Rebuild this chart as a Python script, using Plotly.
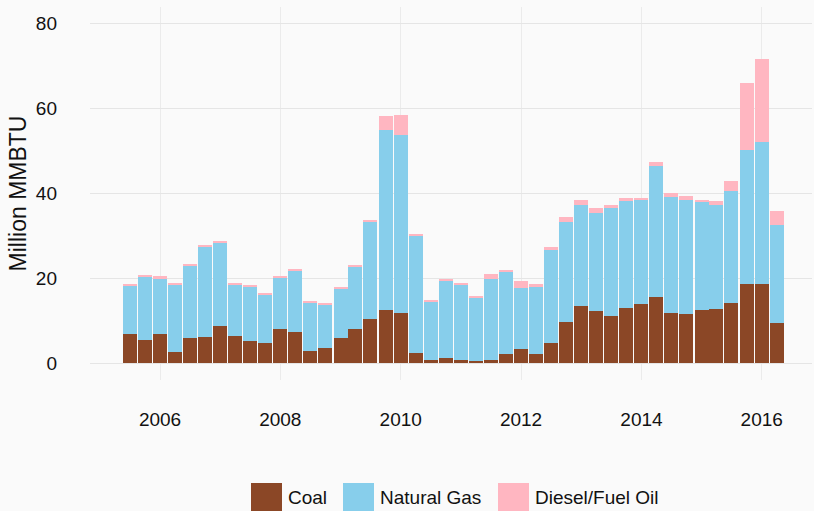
import plotly.graph_objects as go

quarters = [
    "2005-07-01", "2005-10-01",
    "2006-01-01", "2006-04-01", "2006-07-01", "2006-10-01",
    "2007-01-01", "2007-04-01", "2007-07-01", "2007-10-01",
    "2008-01-01", "2008-04-01", "2008-07-01", "2008-10-01",
    "2009-01-01", "2009-04-01", "2009-07-01", "2009-10-01",
    "2010-01-01", "2010-04-01", "2010-07-01", "2010-10-01",
    "2011-01-01", "2011-04-01", "2011-07-01", "2011-10-01",
    "2012-01-01", "2012-04-01", "2012-07-01", "2012-10-01",
    "2013-01-01", "2013-04-01", "2013-07-01", "2013-10-01",
    "2014-01-01", "2014-04-01", "2014-07-01", "2014-10-01",
    "2015-01-01", "2015-04-01", "2015-07-01", "2015-10-01",
    "2016-01-01", "2016-04-01",
]

coal = [6.8, 5.4, 6.8, 2.6, 5.9, 6.1, 8.7, 6.3, 5.2, 4.7, 8.0, 7.3, 2.8, 3.5,
        5.9, 8.0, 10.3, 12.4, 11.7, 2.3, 0.7, 1.2, 0.7, 0.5, 0.7, 2.1, 3.3, 2.1,
        4.7, 9.6, 13.4, 12.2, 11.0, 12.9, 13.8, 15.5, 11.7, 11.5, 12.4, 12.7,
        14.1, 18.6, 18.6, 9.4]

natural_gas = [11.5, 15.0, 13.1, 15.9, 17.1, 21.3, 19.7, 12.2, 12.9, 11.5, 12.2,
               14.5, 11.5, 10.3, 11.7, 14.8, 23.0, 42.5, 42.0, 27.5, 13.8, 18.3,
               17.6, 15.0, 19.2, 19.5, 14.3, 16.0, 21.8, 23.5, 23.7, 23.2, 25.4,
               25.3, 24.7, 31.0, 27.5, 27.0, 25.6, 24.4, 26.5, 31.6, 33.5, 23.0]

diesel_fuel_oil = [0.3, 0.3, 0.7, 0.3, 0.2, 0.3, 0.2, 0.3, 0.3, 0.3, 0.2, 0.2,
                   0.2, 0.2, 0.2, 0.2, 0.2, 3.3, 4.7, 0.7, 0.3, 0.4, 0.5, 0.2,
                   1.0, 0.4, 1.6, 0.4, 0.9, 1.2, 1.4, 1.2, 0.7, 0.7, 0.4, 0.9,
                   0.9, 0.9, 0.2, 1.1, 2.3, 15.7, 19.5, 3.3]

series_names = ["Coal", "Natural Gas", "Diesel/Fuel Oil"]
series_colors = ["#8B4726", "#87CEEB", "#FFB6C1"]

y_ticks = [0, 20, 40, 60, 80]

W, H = 814, 511
ML, MR, MT, MB = 90, 2, 7, 131
PW, PH = W - ML - MR, H - MT - MB

DAY_MS = 86400000
bar_width = [85 * DAY_MS] * len(quarters)

FONT = "Liberation Sans, Arial, Helvetica, sans-serif"

fig = go.Figure()
for name, vals, col in zip(series_names, [coal, natural_gas, diesel_fuel_oil], series_colors):
    fig.add_trace(go.Bar(
        x=quarters, y=vals, name=name, width=bar_width,
        marker=dict(color=col, line=dict(width=0)),
        showlegend=False,
    ))


def px_x(px):
    return (px - ML) / PW


def px_y(py):
    return (H - MB - py) / PH


# legend drawn as swatches + text below the plot
legend_items = [(251, 286), (343, 378), (498, 533)]
shapes = []
annotations = []
for (sx, tx), name, col in zip(legend_items, series_names, series_colors):
    shapes.append(dict(type="rect", xref="paper", yref="paper",
                       x0=px_x(sx), x1=px_x(sx + 31), y0=px_y(483), y1=px_y(515),
                       fillcolor=col, line=dict(width=0), layer="above"))
    annotations.append(dict(text=name, xref="paper", yref="paper",
                            x=px_x(tx), y=px_y(497.5), xanchor="left", yanchor="middle",
                            showarrow=False, font=dict(size=19, color="#111111", family=FONT)))

fig.update_layout(
    width=W, height=H,
    margin=dict(l=ML, r=MR, t=MT, b=MB, autoexpand=False),
    paper_bgcolor="#FAFAFA", plot_bgcolor="#FAFAFA",
    barmode="stack", bargap=0,
    font=dict(family=FONT, color="#111111", size=19),
    shapes=shapes, annotations=annotations,
    xaxis=dict(
        type="date", range=["2004-11-02", "2016-11-01"],
        tick0="2006-01-01", dtick="M24", tickformat="%Y",
        showgrid=True, gridcolor="#EBEBEB", gridwidth=1,
        zeroline=False, showline=False, ticks="",
        ticklabelstandoff=26,
        tickfont=dict(size=19, color="#111111", family=FONT),
    ),
    yaxis=dict(
        range=[-4.0, 83.84], tickvals=y_ticks,
        showgrid=True, gridcolor="#E5E5E5", gridwidth=1,
        zeroline=False, showline=False, ticks="",
        ticklabelstandoff=32,
        tickfont=dict(size=19, color="#111111", family=FONT),
        title=dict(text="Million MMBTU", standoff=2,
                   font=dict(size=23, color="#111111", family=FONT)),
    ),
)

fig.write_html(
    "out.html",
    config={"displayModeBar": False},
    post_script="document.body.style.margin='0';document.body.style.overflow='hidden';",
)
